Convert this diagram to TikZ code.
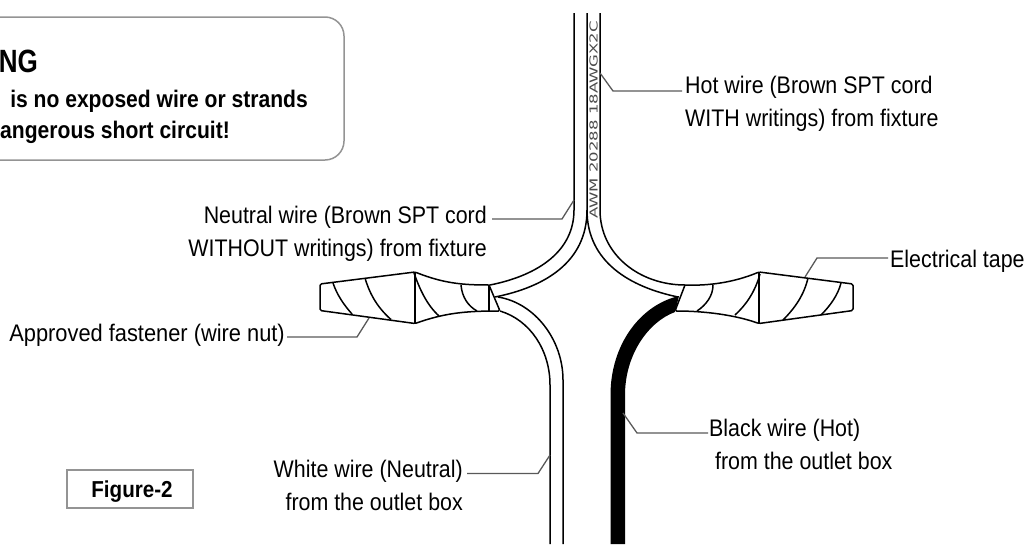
\documentclass[tikz,border=0pt]{standalone}
\usepackage{fontspec}
\setmainfont{Liberation Sans}
\newfontfamily\wirefont{DejaVu Sans}
\tikzset{
  wire/.style={draw=black,line width=1.5pt,line join=round},
  leader/.style={draw=black!65,line width=1.3pt,line join=miter},
  lbl/.style={inner sep=0pt,yscale=1.12,font=\fontsize{21.4}{29.5}\selectfont,text=black},
  warn/.style={inner sep=0pt,anchor=base east,yscale=1.12,xscale=0.985,font=\bfseries\fontsize{21.4}{26}\selectfont},
}
\begin{document}
\begin{tikzpicture}[x=1pt,y=-1pt]
\useasboundingbox (0,0) rectangle (1035,544);
\clip (0,0) rectangle (1035,544);
% warning box
\node[inner sep=0pt,anchor=base east,yscale=1.15,xscale=0.93,font=\bfseries\fontsize{28}{30}\selectfont] (warntitle) at (38,72) {NG};
\node[warn] (warnone) at (308,107) {is no exposed wire or strands};
\node[warn] (warntwo) at (230,138) {angerous short circuit!};
\draw[draw=black!42,line width=1.5pt,rounded corners=19pt] (-40,17) -- (344,17) -- (344,160) -- (-40,160);
% figure box
\draw[draw=black!42,line width=1.6pt] (67,470) rectangle (193,508);
\node[inner sep=0pt,anchor=base,yscale=1.12,font=\bfseries\fontsize{20.6}{24}\selectfont] (fig) at (132,497) {Figure-2};
% fixture wires
\draw[wire] (574,13) -- (574,210) .. controls (574,250) and (540,275) .. (490,285);
\draw[wire] (587,13) -- (587,210) .. controls (587,262) and (545,287) .. (495,297);
\draw[wire] (587,210) .. controls (587,262) and (630,287) .. (678,297);
\draw[wire] (600,13) -- (600,210) .. controls (600,255) and (640,285) .. (685,285);
% outlet wires
\draw[wire] (498,297) .. controls (535,303) and (563,340) .. (563,380) -- (563,544);
\draw[wire] (500,311) .. controls (530,320) and (550,350) .. (550,385) -- (550,544);
\fill[black] (679,296) .. controls (640,305) and (610.5,345) .. (610.5,395) -- (610.5,544) -- (625,544) -- (625,395) .. controls (625,355) and (648,322) .. (675,312) -- cycle;
% left nut
\draw[wire,rounded corners=1.5pt] (490,285) .. controls (465,285) and (445,284) .. (415,272) -- (320,284) -- (320,310.5) -- (415,323.5) .. controls (445,313) and (465,311) .. (500,311) -- (489,285);
\draw[wire] (415,272) -- (415,323.5) (489,285) -- (489,311);
\draw[wire] (333,283) .. controls (337,295) and (344,305) .. (352,314);
\draw[wire] (365,278) .. controls (370,295) and (378,308) .. (391,319.5);
\draw[wire] (414,273) .. controls (420,290) and (427,305) .. (439,316);
\draw[wire] (461,285) .. controls (462,297) and (468,306) .. (477,311);
% right nut
\draw[wire,rounded corners=1.5pt] (685,285) .. controls (710,286) and (735,282) .. (759,272) -- (853,284) -- (853,310.5) -- (759,323.5) .. controls (735,315) and (705,311) .. (675,311) -- (685,285);
\draw[wire] (759,272) -- (759,323.5);
\draw[wire] (713,285) .. controls (713,296) and (706,305) .. (697,311);
\draw[wire] (760,274) .. controls (755,292) and (746,305) .. (735,315);
\draw[wire] (808,278) .. controls (804,295) and (795,308) .. (783,320);
\draw[wire] (841,283) .. controls (838,295) and (830,306) .. (821,315);
% writing on the wire
\node[rotate=90,inner sep=0pt,font=\wirefont\fontsize{11}{11}\selectfont,text=black!70,xscale=1.5] (writing) at (593.5,120) {AWM 20288 18AWGX2C};
% labels
\node[lbl,anchor=north west,align=left] (hot) at (685,76) {Hot wire (Brown SPT cord\\WITH writings) from fixture};
\node[lbl,anchor=north east,align=right] (neutral) at (487,206) {Neutral wire (Brown SPT cord\\WITHOUT writings) from fixture};
\node[lbl,anchor=base east,xscale=1.02] (nut) at (285,341) {Approved fastener (wire nut)};
\node[lbl,anchor=base west] (tape) at (890,267) {Electrical tape};
\node[lbl,anchor=north east,align=right] (white) at (463,460) {White wire (Neutral)\\from the outlet box};
\node[lbl,anchor=north west,align=left] (black) at (709,419) {Black wire (Hot)\\\ from the outlet box};
% leaders
\coordinate (a1) at (600,73); \coordinate (a2) at (613,91); \coordinate (a3) at (682,91);
\draw[leader] (a1) -- (a2) -- (a3);
\coordinate (b1) at (574,200); \coordinate (b2) at (562,219); \coordinate (b3) at (492,219);
\draw[leader] (b1) -- (b2) -- (b3);
\coordinate (c1) at (369,318); \coordinate (c2) at (357,337); \coordinate (c3) at (287,337);
\draw[leader] (c1) -- (c2) -- (c3);
\coordinate (d1) at (805,277); \coordinate (d2) at (817,258); \coordinate (d3) at (888,258);
\draw[leader] (d1) -- (d2) -- (d3);
\coordinate (e1) at (550,455); \coordinate (e2) at (538,473.5); \coordinate (e3) at (467,473.5);
\draw[leader] (e1) -- (e2) -- (e3);
\coordinate (f1) at (623,413); \coordinate (f2) at (637,433); \coordinate (f3) at (708,433);
\draw[leader] (f1) -- (f2) -- (f3);
\end{tikzpicture}
\end{document}
